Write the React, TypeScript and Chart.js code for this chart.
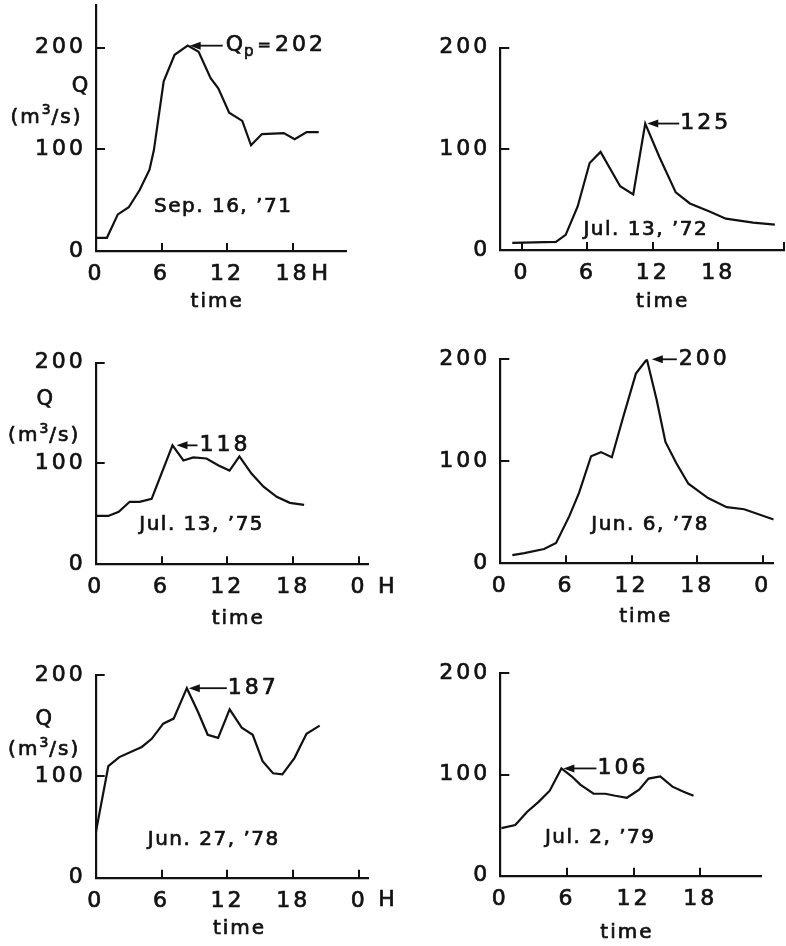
import React, { useEffect, useRef } from "react";
import { Chart, registerables } from "chart.js";

Chart.register(...registerables);

const FONT = '"DejaVu Sans", "Noto Sans", sans-serif';
const INK = "#111111";

// ---------- shared axis text ----------
const yTicks = [0, 100, 200];
const yTickLabels = ["0", "100", "200"];
const yUnitSymbol = "Q";
const yUnitParts = ["(m", "3", "/s)"];
const xTitle = "time";
const peakSymbol = ["Q", "p", "="];

// ---------- panel 1 : Sep. 16, '71 ----------
const p1Date = "Sep. 16, ’71";
const p1Hours = [0, 1, 2, 3, 4, 4.9, 5.3, 6.2, 7.2, 8.4, 9.4, 10.5, 11.2, 12.2, 13.4, 14.2, 15.2, 17.2, 18.2, 19.3, 20.4];
const p1Flow = [13, 13, 36, 43, 60, 80, 99, 167, 193, 202, 196, 170, 160, 136, 128, 104, 115, 116, 110, 117, 117];
const p1Peak = "202";
const p1XTicks = [0, 6, 12, 18];
const p1XLabels = ["0", "6", "12", "18H"];

// ---------- panel 2 : Jul. 13, '72 ----------
const p2Date = "Jul. 13, ’72";
const p2Hours = [-0.9, 3.1, 4.0, 5.1, 6.2, 7.2, 9.0, 10.2, 11.3, 12.6, 14.1, 15.4, 17.2, 18.7, 21.2, 23.2];
const p2Flow = [7, 8, 15, 43, 86, 97, 63, 55, 125, 92, 57, 46, 38, 31, 27, 25];
const p2Peak = "125";
const p2XTicks = [0, 6, 12, 18, 24];
const p2XLabels = ["0", "6", "12", "18", ""];

// ---------- panel 3 : Jul. 13, '75 ----------
const p3Date = "Jul. 13, ’75";
const p3Hours = [0, 1.15, 2.1, 3.1, 4.0, 5.1, 7.0, 8.0, 8.9, 10.1, 11.2, 12.2, 13.1, 14.2, 15.3, 16.5, 17.7, 19.0];
const p3Flow = [48, 48, 52, 62, 62, 65, 118, 103, 106, 105, 98, 93, 107, 90, 77, 67, 61, 59];
const p3Peak = "118";
const p3XTicks = [0, 6, 12, 18, 24];
const p3XLabels = ["0", "6", "12", "18", "0H"];

// ---------- panel 4 : Jun. 6, '78 ----------
const p4Date = "Jun. 6, ’78";
const p4Hours = [1.1, 2.2, 4.0, 5.1, 6.3, 7.2, 8.3, 9.2, 10.2, 11.2, 12.4, 13.4, 14.3, 15.1, 16.1, 17.2, 19.0, 20.7, 22.3, 25.0];
const p4Flow = [8, 10, 14, 20, 46, 69, 105, 109, 104, 142, 186, 200, 160, 119, 98, 78, 64, 55, 53, 43];
const p4Peak = "200";
const p4XTicks = [0, 6, 12, 18, 24];
const p4XLabels = ["0", "6", "12", "18", "0"];

// ---------- panel 5 : Jun. 27, '78 ----------
const p5Date = "Jun. 27, ’78";
const p5Hours = [0, 1.15, 2.15, 4.2, 5.1, 6.15, 7.1, 8.3, 9.3, 10.2, 11.15, 12.2, 13.3, 14.3, 15.2, 16.15, 17.0, 18.1, 19.2, 20.4];
const p5Flow = [44, 110, 119, 129, 137, 152, 157, 187, 164, 141, 138, 166, 148, 141, 115, 103, 102, 118, 142, 150];
const p5Peak = "187";
const p5XTicks = [0, 6, 12, 18, 24];
const p5XLabels = ["0", "6", "12", "18", "0H"];

// ---------- panel 6 : Jul. 2, '79 ----------
const p6Date = "Jul. 2, ’79";
const p6Hours = [0.1, 1.35, 2.4, 3.45, 4.45, 5.5, 6.45, 7.2, 8.4, 9.45, 10.35, 11.4, 12.5, 13.35, 14.4, 15.5, 16.5, 17.4];
const p6Flow = [47, 50, 63, 73, 84, 106, 98, 90, 81, 81, 79, 77, 85, 96, 98, 88, 83, 79];
const p6Peak = "106";
const p6XTicks = [0, 6, 12, 18];
const p6XLabels = ["0", "6", "12", "18"];

// ---------- layout (pixels) and axis ranges ----------
const WY = 60;
const HX = 40;
const frames = [
  { cx: 0, cy: 0, cw: 393, ch: 320, L: 96, T: 5, R: 346, B: 251, xMin: 0, xMax: 22.9, yMax: 242 },
  { cx: 393, cy: 0, cw: 393, ch: 320, L: 500.3, T: 47.7, R: 784.7, B: 250, xMin: -2, xMax: 24.1, yMax: 200 },
  { cx: 0, cy: 320, cw: 393, ch: 320, L: 95.7, T: 362.7, R: 368.3, B: 564.3, xMin: 0, xMax: 24.85, yMax: 200 },
  { cx: 393, cy: 320, cw: 393, ch: 320, L: 500.3, T: 359.3, R: 773.7, B: 563.3, xMin: 0, xMax: 25, yMax: 200 },
  { cx: 0, cy: 640, cw: 393, ch: 306, L: 95.7, T: 675, R: 368, B: 877.7, xMin: 0, xMax: 24.8, yMax: 200 },
  { cx: 393, cy: 640, cw: 393, ch: 306, L: 500.3, T: 673.3, R: 761.3, B: 875.7, xMin: 0, xMax: 23.5, yMax: 200 },
];

// annotation placement: date label (data coords), time title x (hours) + dy, arrow offsets, unit label offsets
const notes = [
  { dateAt: [11.65, 43], timeAt: 11.1, timeDy: 51, arrow: [2, 35, 38], unit: true, qAt: [-16, 162], unitAt: [-50, 131] },
  { dateAt: [11.36, 20], timeAt: 12.9, timeDy: 52, arrow: [2, 34, 35], unit: false },
  { dateAt: [9.66, 39], timeAt: 13.0, timeDy: 54, arrow: [4, 25, 27], unit: true, qAt: [-51, 163], unitAt: [-52, 127] },
  { dateAt: [13.7, 37.5], timeAt: 13.3, timeDy: 53, arrow: [5, 30, 32], unit: false },
  { dateAt: [10.75, 37], timeAt: 13.1, timeDy: 51, arrow: [2, 40, 41], unit: true, qAt: [-52, 156], unitAt: [-52, 126] },
  { dateAt: [9.0, 37], timeAt: 11.4, timeDy: 57, arrow: [2, 35, 36], unit: false },
];

const panels = [
  { hours: p1Hours, flow: p1Flow, date: p1Date, peak: p1Peak, xTicks: p1XTicks, xLabels: p1XLabels, symbol: true },
  { hours: p2Hours, flow: p2Flow, date: p2Date, peak: p2Peak, xTicks: p2XTicks, xLabels: p2XLabels, symbol: false },
  { hours: p3Hours, flow: p3Flow, date: p3Date, peak: p3Peak, xTicks: p3XTicks, xLabels: p3XLabels, symbol: false },
  { hours: p4Hours, flow: p4Flow, date: p4Date, peak: p4Peak, xTicks: p4XTicks, xLabels: p4XLabels, symbol: false },
  { hours: p5Hours, flow: p5Flow, date: p5Date, peak: p5Peak, xTicks: p5XTicks, xLabels: p5XLabels, symbol: false },
  { hours: p6Hours, flow: p6Flow, date: p6Date, peak: p6Peak, xTicks: p6XTicks, xLabels: p6XLabels, symbol: false },
];

const STROKE = 0.7;

function text(ctx: any, s: string, x: number, y: number, size: number, align: string = "left", spacing = 2) {
  ctx.font = `${size}px ${FONT}`;
  ctx.letterSpacing = `${spacing}px`;
  ctx.textAlign = align;
  ctx.textBaseline = "middle";
  ctx.fillText(s, x, y);
  ctx.lineWidth = STROKE;
  ctx.strokeText(s, x, y);
  return ctx.measureText(s).width;
}

function measure(ctx: any, s: string, size: number, spacing = 2) {
  ctx.font = `${size}px ${FONT}`;
  ctx.letterSpacing = `${spacing}px`;
  return ctx.measureText(s).width;
}

function Panel({ idx }: { idx: number }) {
  const ref = useRef<HTMLCanvasElement>(null);
  const p = panels[idx];
  const f = frames[idx];
  const n: any = notes[idx];

  useEffect(() => {
    const canvas = ref.current!;
    const labelFor = (v: number) => {
      const i = p.xTicks.indexOf(v);
      return i < 0 ? "" : p.xLabels[i].replace("H", "");
    };
    const annot = {
      id: "annot" + idx,
      beforeDraw(chart: any) {
        chart.ctx.letterSpacing = "3px";
      },
      afterDraw(chart: any) {
        const { ctx, chartArea: ca } = chart;
        const x = chart.scales.x;
        const y = chart.scales.y;
        ctx.save();
        ctx.strokeStyle = INK;
        ctx.fillStyle = INK;
        ctx.lineWidth = 2;
        ctx.lineCap = "butt";
        // inward tick marks
        for (const v of p.xTicks) {
          if (v <= f.xMin) continue;
          const px = Math.round(x.getPixelForValue(v));
          ctx.beginPath();
          ctx.moveTo(px, ca.bottom);
          ctx.lineTo(px, ca.bottom - 8);
          ctx.stroke();
        }
        for (const v of yTicks) {
          if (v <= 0) continue;
          const py = Math.round(y.getPixelForValue(v));
          ctx.beginPath();
          ctx.moveTo(ca.left, py);
          ctx.lineTo(ca.left + 9, py);
          ctx.stroke();
        }
        // "H" suffix after hour labels
        p.xTicks.forEach((v, i) => {
          if (p.xLabels[i].endsWith("H")) {
            text(ctx, "H", x.getPixelForValue(v) + 19, ca.bottom + 23, 22, "left", 0);
          }
        });
        // time title
        text(ctx, xTitle, x.getPixelForValue(n.timeAt), ca.bottom + n.timeDy, 20, "center", 2);
        // date label
        text(ctx, p.date, x.getPixelForValue(n.dateAt[0]), y.getPixelForValue(n.dateAt[1]), 20, "center", 1.5);
        // peak arrow
        let pi = 0;
        p.flow.forEach((q, i) => { if (q > p.flow[pi]) pi = i; });
        const px = x.getPixelForValue(p.hours[pi]);
        const py = y.getPixelForValue(p.flow[pi]);
        const tip = px + n.arrow[0];
        ctx.beginPath();
        ctx.moveTo(tip, py);
        ctx.lineTo(tip + 11, py - 4);
        ctx.lineTo(tip + 11, py + 4);
        ctx.closePath();
        ctx.fill();
        ctx.lineWidth = 1.8;
        ctx.beginPath();
        ctx.moveTo(tip + 10, py);
        ctx.lineTo(px + n.arrow[1], py);
        ctx.stroke();
        let tx = px + n.arrow[2];
        if (p.symbol) {
          tx += text(ctx, peakSymbol[0], tx, py, 22, "left", 0) + 1;
          tx += text(ctx, peakSymbol[1], tx, py + 6, 15, "left", 0) + 4;
          tx += text(ctx, peakSymbol[2], tx, py, 16, "left", 0) + 4;
        }
        text(ctx, p.peak, tx, py, 22, "left", 3);
        // y unit label
        if (n.unit) {
          text(ctx, yUnitSymbol, ca.left + n.qAt[0], y.getPixelForValue(n.qAt[1]), 21, "center", 0);
          const uy = y.getPixelForValue(n.unitAt[1]);
          const w0 = measure(ctx, yUnitParts[0], 20, 2);
          const w1 = measure(ctx, yUnitParts[1], 14, 0);
          const w2 = measure(ctx, yUnitParts[2], 20, 2);
          let ux = ca.left + n.unitAt[0] - (w0 + w1 + w2) / 2;
          ux += text(ctx, yUnitParts[0], ux, uy, 20, "left", 2);
          ux += text(ctx, yUnitParts[1], ux, uy - 7, 14, "left", 0) + 1;
          text(ctx, yUnitParts[2], ux, uy, 20, "left", 2);
        }
        ctx.restore();
      },
    };

    const fixPad = (s: any) => {
      s.paddingLeft = 0;
      s.paddingRight = 0;
      s.paddingTop = 0;
      s.paddingBottom = 0;
    };

    const chart = new Chart(canvas, {
      type: "line",
      data: {
        datasets: [
          {
            data: p.hours.map((h, i) => ({ x: h, y: p.flow[i] })),
            borderColor: INK,
            borderWidth: 2.2,
            pointRadius: 0,
            tension: 0,
            fill: false,
          },
        ],
      },
      options: {
        animation: false,
        responsive: false,
        events: [],
        layout: {
          autoPadding: false,
          padding: {
            left: f.L - f.cx - WY,
            top: f.T - f.cy,
            right: f.cx + f.cw - f.R,
            bottom: f.cy + f.ch - f.B - HX,
          },
        },
        plugins: { legend: { display: false }, tooltip: { enabled: false }, title: { display: false } },
        scales: {
          x: {
            type: "linear",
            min: f.xMin,
            max: f.xMax,
            grid: { display: false, drawTicks: false },
            border: { display: true, color: INK, width: 2.2 },
            afterBuildTicks: (s: any) => {
              s.ticks = p.xTicks.map((v) => ({ value: v }));
            },
            afterFit: (s: any) => {
              s.height = HX;
              fixPad(s);
            },
            ticks: {
              autoSkip: false,
              maxRotation: 0,
              minRotation: 0,
              padding: 10,
              color: INK,
              textStrokeColor: INK,
              textStrokeWidth: STROKE,
              font: { family: FONT, size: 22 },
              callback: (v: any) => labelFor(Number(v)),
            },
          },
          y: {
            type: "linear",
            min: 0,
            max: f.yMax,
            grid: { display: false, drawTicks: false },
            border: { display: true, color: INK, width: 2.2 },
            afterBuildTicks: (s: any) => {
              s.ticks = yTicks.map((v) => ({ value: v }));
            },
            afterFit: (s: any) => {
              s.width = WY;
              fixPad(s);
            },
            ticks: {
              autoSkip: false,
              padding: 10,
              color: INK,
              textStrokeColor: INK,
              textStrokeWidth: STROKE,
              font: { family: FONT, size: 22 },
              callback: (v: any) => {
                const i = yTicks.indexOf(Number(v));
                return i < 0 ? "" : yTickLabels[i];
              },
            },
          },
        },
      } as any,
      plugins: [annot],
    });
    return () => chart.destroy();
  }, []);

  return (
    <canvas
      ref={ref}
      width={f.cw}
      height={f.ch}
      style={{ position: "absolute", left: f.cx, top: f.cy, width: f.cw, height: f.ch }}
    />
  );
}

export default function App() {
  return (
    <div style={{ position: "absolute", left: 0, top: 0, width: 786, height: 946, background: "#fff" }}>
      {panels.map((_, i) => (
        <Panel key={i} idx={i} />
      ))}
    </div>
  );
}
